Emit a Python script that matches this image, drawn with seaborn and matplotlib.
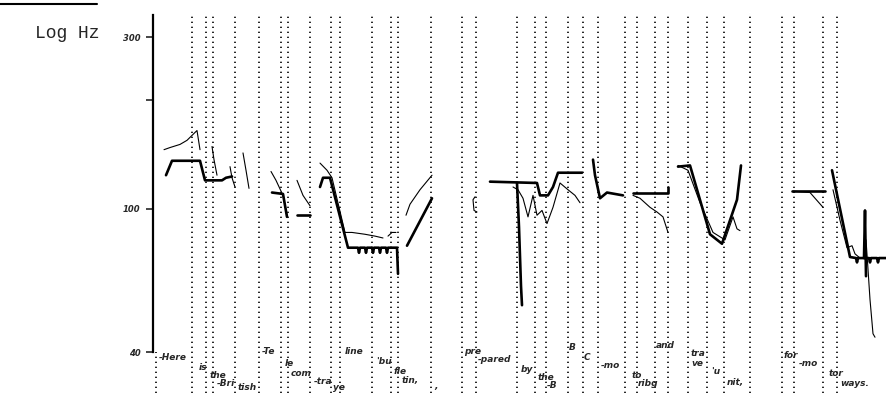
import numpy as np
import pandas as pd
import matplotlib.pyplot as plt
import seaborn as sns
from matplotlib.lines import Line2D

# time (arbitrary units from the axis) of the dotted syllable boundaries
boundaries_t = [39, 53, 60, 82, 106, 128, 135, 157, 178, 187, 219, 238, 245, 278,
                309, 323, 364, 382, 393, 415, 430, 445, 472, 484, 502, 515, 535,
                554, 571, 597, 629, 641, 670, 684]

# stylized (thick) contour pieces: time, Hz
stylized_t = [
    [13, 19, 47, 52, 69, 73, 79],
    [119, 130, 134],
    [144, 157],
    [167, 170, 177, 195, 200, 205, 206, 207, 212, 213, 214, 219, 220, 221, 226, 227,
     228, 233, 234, 235, 240, 244, 245],
    [254, 279],
    [337, 384, 387, 395, 400, 405, 429],
    [364, 366, 368, 369],
    [440, 442, 447, 454, 470],
    [480, 515, 515],
    [525, 537, 557, 569, 584, 588],
    [639, 672],
    [679, 697, 703, 704, 705, 716, 717, 718, 724, 725, 726, 734],
    [711, 712, 713],
]
stylized_hz = [
    [124, 136, 136, 120, 120, 122, 123],
    [111, 110, 95],
    [96, 96],
    [115, 122, 122, 78, 78, 78, 75.5, 78, 78, 75.5, 78, 78, 75.5, 78, 78, 75.5,
     78, 78, 75.5, 78, 78, 78, 66],
    [79, 107],
    [119, 118, 109, 109, 115, 126, 126],
    [118, 89, 61, 54],
    [137, 124, 107, 111, 109],
    [111, 111, 115],
    [131, 132, 85, 80, 106, 132],
    [112, 112],
    [128, 73.5, 73, 71, 73, 73, 71, 73, 73, 71, 73, 73],
    [73, 99, 65],
]

# measured (thin) contour pieces: time, Hz
measured_t = [
    [11, 17, 27, 34, 42, 44, 47],
    [59, 61, 64],
    [77, 79, 82],
    [90, 93, 96],
    [118, 123, 130, 134],
    [144, 150, 157],
    [167, 174, 179, 192, 199, 212, 222, 230],
    [235, 239, 243],
    [253, 257, 267, 279],
    [322, 320, 321, 324],
    [360, 365, 370, 375, 380, 384, 389, 394, 400, 407, 415, 422, 427],
    [480, 487, 497, 504, 510, 515],
    [525, 535, 547, 560, 572, 580, 584, 587],
    [640, 657, 670],
    [680, 687, 694, 699, 702, 707],
    [713, 715, 717, 720, 722],
]
measured_hz = [
    [146, 148, 151, 155, 163, 165, 146],
    [149, 137, 124],
    [131, 122, 115],
    [143, 128, 114],
    [127, 120, 109, 96],
    [120, 109, 102],
    [134, 128, 122, 86, 86, 85, 84, 83],
    [84, 86, 86],
    [96, 103, 113, 124],
    [108, 106, 99, 98],
    [115, 113, 107, 95, 109, 96, 99, 91, 101, 118, 113, 109, 104],
    [109, 107, 101, 98, 95, 86],
    [132, 128, 104, 86, 82, 95, 88, 87],
    [112, 111, 101],
    [113, 93, 78, 79, 75, 73],
    [82, 68, 56, 45, 44],
]

syllables = ["-Here", "is", "the", "-Bri", "tish", "-Te", "le", "com", "-tra", "ye",
             "line", "'bu", "fle", "tin,", ",", "pre", "-pared", "by", "the", "-B",
             "B", "C", "-mo", "to", "ribg", "and", "tra", "ve", "'u", "nit,",
             "for", "-mo", "tor", "ways."]
# label anchor positions in pixels (left, centre)
syl_px = [(159, 357), (199, 367), (210, 375), (217, 383), (238, 387), (262, 352),
          (285, 364), (291, 373), (314, 381), (333, 387), (345, 352), (376, 361),
          (394, 372), (402, 380), (434, 386), (464, 352), (478, 360), (521, 369),
          (538, 378), (547, 386), (569, 348), (584, 357), (601, 365), (632, 375),
          (638, 384), (656, 345), (691, 353), (691, 364), (711, 372), (727, 383),
          (784, 355), (799, 363), (829, 373), (840, 383)]


def to_frame(ts, hzs):
    rows = []
    for i, (t, h) in enumerate(zip(ts, hzs)):
        for k, (a, b) in enumerate(zip(t, h)):
            rows.append((i, k, a, b))
    return pd.DataFrame(rows, columns=["seg", "order", "t", "hz"])


stylized = to_frame(stylized_t, stylized_hz)
measured = to_frame(measured_t, measured_hz)

sns.set_style("white")
W, H = 887, 393
fig = plt.figure(figsize=(W / 100, H / 100), dpi=100)
ax = fig.add_axes([153 / W, 0, 734 / W, 383 / H])
ax.set_yscale("log")

for t in boundaries_t:
    ax.axvline(t, ymin=0, ymax=0.985, color="black", lw=1.2,
               linestyle=(0, (0.8, 2.2)))
ax.axvline(3, ymin=0, ymax=0.107, color="black", lw=1.2, linestyle=(0, (0.8, 2.2)))

sns.lineplot(data=measured, x="t", y="hz", units="seg", estimator=None, sort=False,
             color="black", lw=0.8, ax=ax)
sns.lineplot(data=stylized, x="t", y="hz", units="seg", estimator=None, sort=False,
             color="black", lw=1.9, ax=ax)

ax.set_xlim(0, 734)
ax.set_ylim(30.8, 356.7)
ax.set_yticks([40, 100, 200, 300])
ax.set_yticklabels(["40", "100", "", "300"], fontsize=6, fontweight="bold",
                   fontstyle="italic")
ax.minorticks_off()
ax.tick_params(axis="y", direction="out", length=5, width=1.2, pad=4, left=True)
ax.set_xticks([])
ax.set_xlabel("")
ax.set_ylabel("")
sns.despine(ax=ax, top=True, right=True, bottom=True)
ax.spines["left"].set_bounds(40, 345)
ax.spines["left"].set_linewidth(1.6)
ax.spines["left"].set_color("black")

for word, (px, py) in zip(syllables, syl_px):
    fig.text(px / W, 1 - py / H, word, fontsize=6.5, fontweight="bold",
             fontstyle="italic", va="center", ha="left")

fig.text(35 / W, 1 - 33 / H, "Log Hz", fontsize=13, family="Liberation Mono",
         va="center", ha="left")
fig.add_artist(Line2D([0, 97 / W], [1 - 4 / H, 1 - 4 / H], color="black", lw=1.5))

fig.savefig("out.png", dpi=100)
